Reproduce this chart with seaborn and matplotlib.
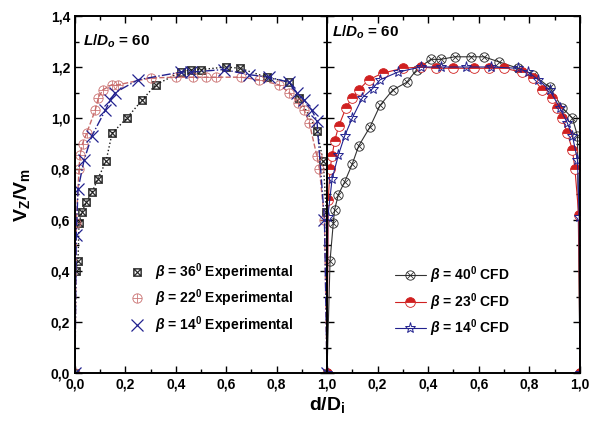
import numpy as np
import pandas as pd
import matplotlib
matplotlib.use("Agg")
import matplotlib.pyplot as plt
import seaborn as sns
from matplotlib.ticker import MultipleLocator, FuncFormatter

# ---------------- data ----------------
exp36_x = [0.0, 0.003, 0.012, 0.016, 0.027, 0.045, 0.068, 0.09, 0.123, 0.147, 0.206, 0.266, 0.32,
           0.42, 0.46, 0.50, 0.60, 0.655, 0.76, 0.85, 0.89, 0.96, 0.985, 0.997, 1.0]
exp36_y = [0.0, 0.40, 0.44, 0.59, 0.63, 0.67, 0.71, 0.76, 0.83, 0.94, 1.00, 1.07, 1.13,
           1.18, 1.19, 1.19, 1.20, 1.195, 1.16, 1.14, 1.08, 0.95, 0.83, 0.63, 0.0]

exp22_x = [0.0, 0.005, 0.016, 0.02, 0.03, 0.046, 0.08, 0.093, 0.11, 0.145, 0.17, 0.30, 0.40,
           0.47, 0.52, 0.56, 0.66, 0.73, 0.81, 0.85, 0.885, 0.91, 0.93, 0.96, 0.97, 0.99, 1.0]
exp22_y = [0.0, 0.59, 0.80, 0.855, 0.90, 0.94, 1.03, 1.08, 1.11, 1.13, 1.13, 1.157, 1.16,
           1.16, 1.16, 1.16, 1.16, 1.15, 1.13, 1.10, 1.06, 1.03, 0.98, 0.85, 0.80, 0.60, 0.0]

exp14_x = [0.0, 0.005, 0.012, 0.036, 0.067, 0.12, 0.14, 0.16, 0.25, 0.42, 0.46, 0.59, 0.69,
           0.77, 0.85, 0.88, 0.91, 0.94, 0.96, 0.99, 1.0]
exp14_y = [0.0, 0.54, 0.72, 0.835, 0.93, 1.03, 1.07, 1.10, 1.15, 1.18, 1.18, 1.19, 1.17,
           1.16, 1.14, 1.10, 1.07, 1.03, 0.99, 0.60, 0.0]

cfd40_x = [0.0, 0.012, 0.025, 0.03, 0.045, 0.07, 0.10, 0.125, 0.17, 0.21, 0.26, 0.315, 0.355,
           0.41, 0.45, 0.505, 0.57, 0.62, 0.68, 0.755, 0.815, 0.88, 0.93, 0.97, 0.99, 1.0]
cfd40_y = [0.0, 0.44, 0.59, 0.64, 0.70, 0.75, 0.82, 0.89, 0.965, 1.05, 1.11, 1.14, 1.19,
           1.23, 1.23, 1.24, 1.24, 1.24, 1.22, 1.195, 1.17, 1.12, 1.04, 1.00, 0.93, 0.0]

cfd23_x = [0.0, 0.005, 0.012, 0.02, 0.03, 0.047, 0.075, 0.10, 0.125, 0.165, 0.22, 0.30, 0.37,
           0.43, 0.50, 0.58, 0.64, 0.70, 0.77, 0.815, 0.85, 0.89, 0.91, 0.93, 0.95, 0.97, 0.98,
           0.995, 1.0]
cfd23_y = [0.0, 0.68, 0.80, 0.85, 0.91, 0.97, 1.04, 1.08, 1.11, 1.15, 1.176, 1.195, 1.20,
           1.195, 1.195, 1.195, 1.195, 1.195, 1.18, 1.157, 1.11, 1.08, 1.04, 1.00, 0.94, 0.875, 0.80,
           0.62, 0.0]

cfd14_x = [0.0, 0.003, 0.02, 0.045, 0.07, 0.10, 0.14, 0.18, 0.21, 0.28, 0.37, 0.45, 0.55,
           0.65, 0.755, 0.795, 0.835, 0.88, 0.92, 0.95, 0.97, 0.99, 0.997, 1.0]
cfd14_y = [0.0, 0.61, 0.76, 0.855, 0.93, 1.00, 1.08, 1.115, 1.15, 1.18, 1.20, 1.20, 1.20,
           1.20, 1.195, 1.18, 1.15, 1.11, 1.04, 0.98, 0.93, 0.835, 0.61, 0.0]

x_ticks = [0.0, 0.2, 0.4, 0.6, 0.8, 1.0]
y_ticks = [0.0, 0.2, 0.4, 0.6, 0.8, 1.0, 1.2, 1.4]

# ---------------- style ----------------
sns.set_style("ticks")
plt.rcParams['font.family'] = ['Liberation Sans', 'DejaVu Sans']
plt.rcParams['font.weight'] = 'bold'
plt.rcParams['text.color'] = 'black'
plt.rcParams['axes.labelcolor'] = 'black'
plt.rcParams['xtick.color'] = 'black'
plt.rcParams['ytick.color'] = 'black'
plt.rcParams['mathtext.fontset'] = 'custom'
plt.rcParams['mathtext.rm'] = 'Liberation Sans:bold'
plt.rcParams['mathtext.it'] = 'Liberation Sans:italic:bold'
plt.rcParams['mathtext.bf'] = 'Liberation Sans:bold'

fig = plt.figure(figsize=(6.02, 4.29), dpi=100)
bottom = 1 - 373 / 429
height = (373 - 16) / 429
axL = fig.add_axes([75 / 602, bottom, (327 - 75) / 602, height])
axR = fig.add_axes([327 / 602, bottom, (580 - 327) / 602, height])

BLACK = "#1a1a1a"
RED = "#d02020"
PINK = "#c86a6a"
BLUE = "#22228f"

def draw(ax, xs, ys, label, **kw):
    df = pd.DataFrame({"x": xs, "y": ys})
    sns.lineplot(data=df, x="x", y="y", ax=ax, sort=False, estimator=None, label=label, **kw)

# Left panel: experimental
draw(axL, exp36_x, exp36_y, r"$\beta$ = 36$^{0}$ Experimental", color=BLACK, linestyle=":",
     linewidth=1.0, marker=r"$\boxtimes$", markersize=6, markeredgecolor=BLACK,
     markeredgewidth=0.3)
draw(axL, exp22_x, exp22_y, r"$\beta$ = 22$^{0}$ Experimental", color=PINK, linestyle="--",
     linewidth=1.0, marker=r"$\oplus$", markersize=7, markeredgecolor=PINK,
     markeredgewidth=0.2)
draw(axL, exp14_x, exp14_y, r"$\beta$ = 14$^{0}$ Experimental", color=BLUE, linestyle="-.",
     linewidth=1.0, marker="x", markersize=8, markeredgecolor=BLUE, markeredgewidth=0.9)

# Right panel: CFD
draw(axR, cfd40_x, cfd40_y, r"$\beta$ = 40$^{0}$ CFD", color="#333333", linestyle="-",
     linewidth=0.8, marker=r"$\otimes$", markersize=7, markeredgecolor=BLACK,
     markeredgewidth=0.2)
draw(axR, cfd23_x, cfd23_y, r"$\beta$ = 23$^{0}$ CFD", color=RED, linestyle="-",
     linewidth=0.8, marker="o", markersize=7, fillstyle="top", markerfacecolor=RED,
     markerfacecoloralt="white", markeredgecolor=RED, markeredgewidth=0.6)
draw(axR, cfd14_x, cfd14_y, r"$\beta$ = 14$^{0}$ CFD", color=BLUE, linestyle="-",
     linewidth=0.8, marker="*", markersize=8, markerfacecolor="none", markeredgecolor=BLUE,
     markeredgewidth=0.7)

fmt = FuncFormatter(lambda v, p: f"{v:.1f}".replace(".", ","))
for ax in (axL, axR):
    ax.set_xlim(0, 1.0)
    ax.set_ylim(0, 1.4)
    ax.set_xticks(x_ticks)
    ax.set_yticks(y_ticks)
    ax.xaxis.set_minor_locator(MultipleLocator(0.1))
    ax.yaxis.set_minor_locator(MultipleLocator(0.1))
    ax.xaxis.set_major_formatter(fmt)
    ax.yaxis.set_major_formatter(fmt)
    ax.tick_params(which="both", direction="in", top=True, right=True, colors="black",
                   labelsize=10, width=1.0)
    ax.tick_params(which="major", length=5)
    ax.tick_params(which="minor", length=3)
    for s in ax.spines.values():
        s.set_linewidth(1.4)
        s.set_color("black")
    ax.set_xlabel("")
    ax.set_ylabel("")
    for lbl in ax.get_xticklabels() + ax.get_yticklabels():
        lbl.set_fontweight("bold")

axR.tick_params(labelleft=False)
axR.set_xticks(x_ticks)
axR.set_xticklabels([""] + [fmt(v, None) for v in x_ticks[1:]], fontweight="bold")

# annotations
for ax, xp, yp in ((axL, 0.03, 0.93), (axR, 0.02, 0.955)):
    ax.text(xp, yp, r"$L/D_{o}$ = 60", transform=ax.transAxes, fontsize=11,
            fontweight="bold", ha="left", va="center", color="black")

legL = axL.legend(loc="lower left", bbox_to_anchor=(0.17, 0.07), frameon=False,
                  fontsize=10, handlelength=1.0, labelspacing=0.35, handletextpad=0.8)
legR = axR.legend(loc="lower left", bbox_to_anchor=(0.22, 0.06), frameon=False,
                  fontsize=10, handlelength=2.2, labelspacing=0.35, handletextpad=0.3)
for leg in (legL, legR):
    for t in leg.get_texts():
        t.set_fontweight("bold")
        t.set_color("black")
for h in legL.legend_handles:
    h.set_linestyle("none")

fig.text(327 / 602, 1 - 405 / 429, r"d/D$_{\rm i}$", ha="center", va="center",
         fontsize=14, fontweight="bold", color="black")
fig.text(22 / 602, 1 - 195 / 429, r"V$_{\rm Z}$/V$_{\rm m}$", ha="center", va="center",
         fontsize=14, fontweight="bold", rotation=90, color="black")

fig.savefig("out.png", dpi=100)
